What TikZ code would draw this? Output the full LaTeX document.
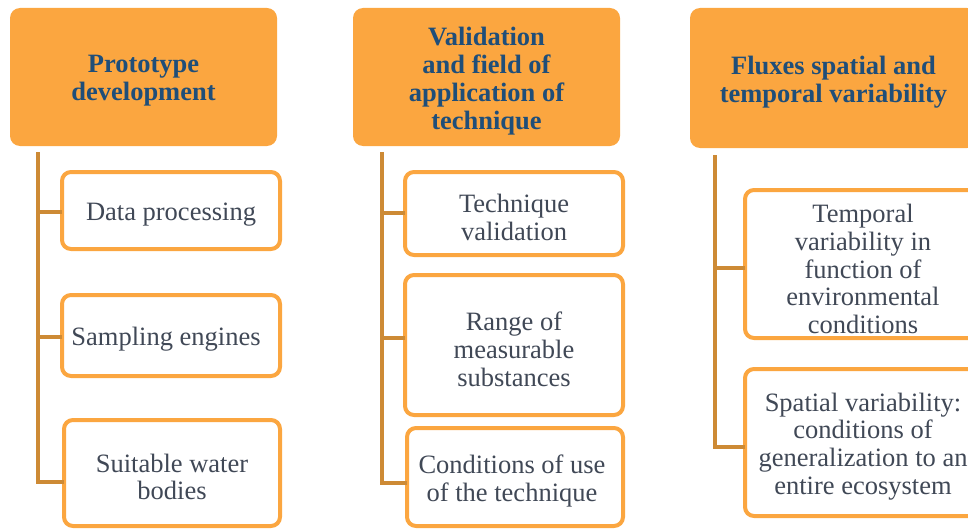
\documentclass[tikz,border=0pt]{standalone}
\usepackage{fontspec}
\setmainfont{Liberation Serif}
\definecolor{hdrfill}{HTML}{FBA640}
\definecolor{boxline}{HTML}{FBA640}
\definecolor{conncol}{HTML}{CD8A35}
\definecolor{hdrtext}{HTML}{1F4E79}
\definecolor{bodytext}{HTML}{404856}
\begin{document}
\begin{tikzpicture}[x=1pt,y=-1pt,
  hdr/.style={rectangle, rounded corners=10pt, fill=hdrfill, draw=none,
    inner sep=0pt, outer sep=0pt},
  hdrtxt/.style={inner sep=0pt, align=center, text=hdrtext,
    font=\fontsize{26.5}{27.8}\selectfont\bfseries},
  sub/.style={rectangle, rounded corners=9pt, fill=white, draw=boxline, line width=4pt,
    inner sep=0pt, outer sep=0pt},
  subtxt/.style={inner sep=0pt, align=center, text=bodytext,
    font=\fontsize{26.5}{27.8}\selectfont},
  conn/.style={draw=conncol, line width=4.5pt}]
\useasboundingbox (0,0) rectangle (968,532);
\clip (0,0) rectangle (968,532);

% headers
\node[hdr, minimum width=267pt, minimum height=138pt] (h1) at (143.5,77) {};
\node[hdr, minimum width=267pt, minimum height=138pt] (h2) at (486.5,77) {};
\node[hdr, minimum width=287pt, minimum height=140pt] (h3) at (833.5,78) {};
\node[hdrtxt] (h1t) at ([yshift=-4pt]h1.center) {Prototype\\development};
\node[hdrtxt] (h2t) at ([yshift=-4pt]h2.center) {Validation\\and field of\\application of\\technique};
\node[hdrtxt] (h3t) at ([yshift=-4pt]h3.center) {Fluxes spatial and\\temporal variability};

% column 1 boxes
\node[sub, minimum width=218pt, minimum height=77pt] (a1) at (171,210.5) {};
\node[sub, minimum width=218pt, minimum height=81pt] (a2) at (171,335.5) {};
\node[sub, minimum width=216pt, minimum height=106pt] (a3) at (172,473) {};
\node[subtxt] (a1t) at ([yshift=-4pt]a1.center) {Data processing};
\node[subtxt] (a2t) at ([yshift=-4pt,xshift=-5pt]a2.center) {Sampling engines};
\node[subtxt] (a3t) at ([yshift=-4pt]a3.center) {Suitable water\\bodies};

% column 2 boxes
\node[sub, minimum width=218pt, minimum height=83pt] (b1) at (514,213.5) {};
\node[sub, minimum width=218pt, minimum height=140pt] (b2) at (514,345) {};
\node[sub, minimum width=216pt, minimum height=98pt] (b3) at (515,477) {};
\node[subtxt] (b1t) at ([yshift=-4pt]b1.center) {Technique\\validation};
\node[subtxt] (b2t) at ([yshift=-4pt]b2.center) {Range of\\measurable\\substances};
\node[subtxt] (b3t) at ([yshift=-4pt,xshift=-3pt]b3.center) {Conditions of use\\of the technique};

% column 3 boxes
\node[sub, minimum width=236pt, minimum height=148pt] (c1) at (863,264) {};
\node[sub, minimum width=236pt, minimum height=147pt] (c2) at (863,442.5) {};
\node[subtxt] (c1t) at ([yshift=-5pt]c1.center) {Temporal\\variability in\\function of\\environmental\\conditions};
\node[subtxt] (c2t) at ([yshift=-4pt]c2.center) {Spatial variability:\\conditions of\\generalization to an\\entire ecosystem};

% trunks
\coordinate (ta) at (38,152);
\coordinate (tb) at (382,152);
\coordinate (tc) at (715,155);

\draw[conn] (ta) |- (a3.west |- 0,482);
\draw[conn] (ta |- 0,212) -- (a1.west |- 0,212);
\draw[conn] (ta |- 0,337) -- (a2.west |- 0,337);

\draw[conn] (tb) |- (b3.west |- 0,483);
\draw[conn] (tb |- 0,213) -- (b1.west |- 0,213);
\draw[conn] (tb |- 0,338) -- (b2.west |- 0,338);

\draw[conn] (tc) |- (c2.west |- 0,447);
\draw[conn] (tc |- 0,268) -- (c1.west |- 0,268);
\end{tikzpicture}
\end{document}
